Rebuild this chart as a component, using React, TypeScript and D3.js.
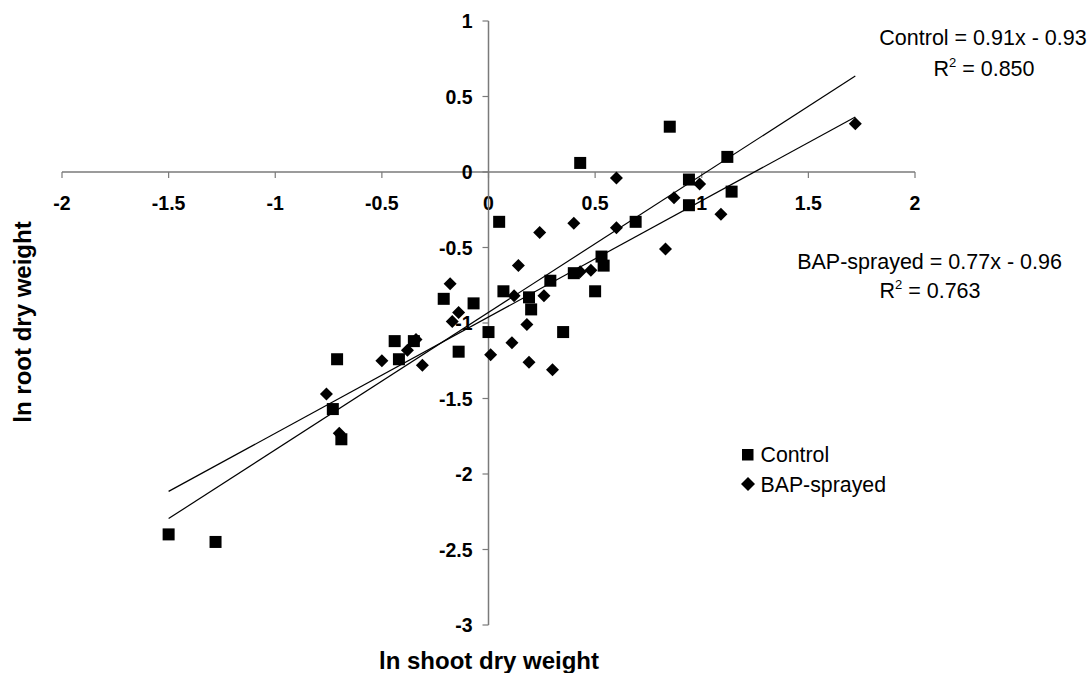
import React from "react";
import * as d3 from "d3";

const controlX = [-1.5, -1.28, -0.71, -0.73, -0.69, -0.44, -0.42, -0.35, -0.21, -0.14, -0.07, 0.0, 0.05, 0.07, 0.19, 0.2, 0.29, 0.35, 0.4, 0.43, 0.5, 0.53, 0.54, 0.69, 0.85, 0.94, 0.94, 1.12, 1.14];
const controlY = [-2.4, -2.45, -1.24, -1.57, -1.77, -1.12, -1.24, -1.12, -0.84, -1.19, -0.87, -1.06, -0.33, -0.79, -0.83, -0.91, -0.72, -1.06, -0.67, 0.06, -0.79, -0.56, -0.62, -0.33, 0.3, -0.05, -0.22, 0.1, -0.13];

const bapX = [-0.76, -0.7, -0.5, -0.38, -0.34, -0.31, -0.18, -0.17, -0.14, 0.01, 0.11, 0.12, 0.14, 0.18, 0.19, 0.24, 0.26, 0.3, 0.4, 0.43, 0.48, 0.6, 0.6, 0.83, 0.87, 0.99, 1.09, 1.72];
const bapY = [-1.47, -1.73, -1.25, -1.18, -1.11, -1.28, -0.74, -0.99, -0.93, -1.21, -1.13, -0.82, -0.62, -1.01, -1.26, -0.4, -0.82, -1.31, -0.34, -0.66, -0.65, -0.04, -0.37, -0.51, -0.17, -0.08, -0.28, 0.32];

const xTicks = [-2, -1.5, -1, -0.5, 0, 0.5, 1, 1.5, 2];
const yTicks = [1, 0.5, 0, -0.5, -1, -1.5, -2, -2.5, -3];

const controlFit = { slope: 0.91, intercept: -0.93, r2: "0.850", label: "Control" };
const bapFit = { slope: 0.77, intercept: -0.96, r2: "0.763", label: "BAP-sprayed" };

const FONT = "'Liberation Sans', Arial, sans-serif";

export default function App() {
  const x = d3.scaleLinear().domain([-2, 2]).range([62, 915]);
  const y = d3.scaleLinear().domain([-3, 1]).range([625, 21]);
  const allX = [...controlX, ...bapX];
  const [x0, x1] = d3.extent(allX) as [number, number];
  const line = d3.line<[number, number]>().x((d) => x(d[0])).y((d) => y(d[1]));
  const fitLine = (f: { slope: number; intercept: number }) =>
    line([
      [x0, f.slope * x0 + f.intercept],
      [x1, f.slope * x1 + f.intercept],
    ]) || "";
  const axisColor = "#7a7a7a";
  const sq = 12;
  const dm = 6.5;
  const diamond = (cx: number, cy: number, r: number) =>
    `M${cx},${cy - r}L${cx + r},${cy}L${cx},${cy + r}L${cx - r},${cy}Z`;

  return (
    <svg
      width={1091}
      height={673}
      style={{ position: "absolute", left: 0, top: 0, background: "#fff" }}
      fontFamily={FONT}
    >
      <rect x={0} y={0} width={1091} height={673} fill="#fff" />
      {/* x axis */}
      <line x1={x(-2)} x2={x(2)} y1={y(0)} y2={y(0)} stroke={axisColor} strokeWidth={1.5} />
      {xTicks.map((t) => (
        <g key={"xt" + t}>
          <line x1={x(t)} x2={x(t)} y1={y(0)} y2={y(0) + 6} stroke={axisColor} strokeWidth={1.2} />
          <text x={x(t)} y={y(0) + 38} textAnchor="middle" fontWeight="bold" fontSize={19.5} fill="#000">
            {t}
          </text>
        </g>
      ))}
      {/* y axis */}
      <line x1={x(0)} x2={x(0)} y1={y(1)} y2={y(-3)} stroke={axisColor} strokeWidth={1.5} />
      {yTicks.map((t) => (
        <g key={"yt" + t}>
          <line x1={x(0) - 6} x2={x(0)} y1={y(t)} y2={y(t)} stroke={axisColor} strokeWidth={1.2} />
          <text x={x(0) - 16} y={y(t) + 7} textAnchor="end" fontWeight="bold" fontSize={19.5} fill="#000">
            {t}
          </text>
        </g>
      ))}
      {/* trend lines */}
      <path d={fitLine(controlFit)} stroke="#000" strokeWidth={1.2} fill="none" />
      <path d={fitLine(bapFit)} stroke="#000" strokeWidth={1.2} fill="none" />
      {/* points */}
      {controlX.map((v, i) => (
        <rect key={"c" + i} x={x(v) - sq / 2} y={y(controlY[i]) - sq / 2} width={sq} height={sq} fill="#000" />
      ))}
      {bapX.map((v, i) => (
        <path key={"b" + i} d={diamond(x(v), y(bapY[i]), dm)} fill="#000" />
      ))}
      {/* equations */}
      <text x={983} y={45} textAnchor="middle" fontSize={21.5} fill="#000">
        {`${controlFit.label} = ${controlFit.slope}x - ${Math.abs(controlFit.intercept).toFixed(2)}`}
      </text>
      <text x={984} y={76} textAnchor="middle" fontSize={21.5} fill="#000">
        R<tspan dy={-9} fontSize={13}>2</tspan>
        <tspan dy={9}>{` = ${controlFit.r2}`}</tspan>
      </text>
      <text x={929.5} y={269} textAnchor="middle" fontSize={21.5} fill="#000">
        {`${bapFit.label} = ${bapFit.slope}x - ${Math.abs(bapFit.intercept).toFixed(2)}`}
      </text>
      <text x={930} y={298} textAnchor="middle" fontSize={21.5} fill="#000">
        R<tspan dy={-9} fontSize={13}>2</tspan>
        <tspan dy={9}>{` = ${bapFit.r2}`}</tspan>
      </text>
      {/* legend */}
      <rect x={742} y={449} width={11.5} height={11.5} fill="#000" />
      <text x={760.5} y={462} fontSize={21.3} fill="#000">
        {controlFit.label}
      </text>
      <path d={diamond(748, 484, 7)} fill="#000" />
      <text x={760.5} y={492} fontSize={21.3} fill="#000">
        {bapFit.label}
      </text>
      {/* axis titles */}
      <text x={489} y={669} textAnchor="middle" fontWeight="bold" fontSize={24} fill="#000">
        ln shoot dry weight
      </text>
      <text
        transform={`translate(31,322) rotate(-90)`}
        textAnchor="middle"
        fontWeight="bold"
        fontSize={24}
        fill="#000"
      >
        ln root dry weight
      </text>
    </svg>
  );
}
